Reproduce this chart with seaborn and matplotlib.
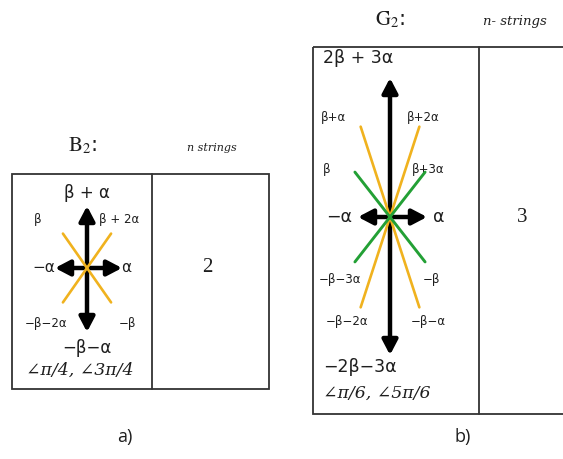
import numpy as np
import seaborn as sns
import matplotlib.pyplot as plt
from matplotlib.patches import Rectangle

sns.set_theme(style="white")
plt.rcParams['mathtext.fontset'] = 'stix'

# root system data
b2_short_angles = [55, 125]          # orange lines (degrees)
b2_labels = ["β + α", "β", "β + 2α", "−α", "α", "−β−2α", "−β", "−β−α"]
b2_angle_text = "∠π/4, ∠3π/4"
b2_strings = "2"

g2_long_angles = [72, 108]           # orange lines
g2_short_angles = [52, 128]          # green lines
g2_labels = ["2β + 3α", "β+α", "β+2α", "β", "β+3α", "−α", "α",
             "−β−3α", "−β", "−β−2α", "−β−α", "−2β−3α"]
g2_angle_text = "∠π/6, ∠5π/6"
g2_strings = "3"

panel_names = [r"$\mathrm{B}_2$:", r"$\mathrm{G}_2$:"]
column_titles = ["n strings", "n- strings"]
captions = ["a)", "b)"]

ORANGE = "#F0B21E"
GREEN = "#23A035"
INK = "#1e1e1e"
SANS = ['DejaVu Sans']
SERIF = ['DejaVu Serif']

fig = plt.figure(figsize=(5.63, 4.59), dpi=100)
ax = fig.add_axes([0, 0, 1, 1])
ax.set_xlim(0, 563)
ax.set_ylim(459, 0)
ax.axis('off')


def box(x0, y0, x1, y1, xdiv):
    ax.add_patch(Rectangle((x0, y0), x1 - x0, y1 - y0, fill=False,
                           ec='#333333', lw=1.3))
    ax.plot([xdiv, xdiv], [y0, y1], color='#333333', lw=1.3)


def root_lines(cx, cy, angles, length, color, lw):
    for a in angles:
        t = np.deg2rad(a)
        dx, dy = length * np.cos(t), length * np.sin(t)
        sns.lineplot(x=[cx - dx, cx + dx], y=[cy + dy, cy - dy], sort=False,
                     color=color, lw=lw, ax=ax, zorder=4)


def arrow(x0, y0, x1, y1):
    ax.annotate('', xy=(x1, y1), xytext=(x0, y0),
                arrowprops=dict(arrowstyle='-|>,head_length=0.8,head_width=0.42',
                                lw=3.2, color='black', shrinkA=0, shrinkB=0,
                                mutation_scale=11), zorder=3)


def label(x, y, s, size=8.5, ha='center', **kw):
    ax.text(x, y, s, ha=ha, va='center', fontsize=size, family=SANS,
            color=INK, **kw)


# ---- panel a) B2 ----
box(12, 174, 269, 389, 152)
cx, cy = 87, 268
root_lines(cx, cy, b2_short_angles, 42, ORANGE, 1.9)
arrow(cx, cy, cx, 206)
arrow(cx, cy, cx, 332)
arrow(cx, cy, 55, cy)
arrow(cx, cy, 122, cy)

label(87, 193, b2_labels[0], size=12)
label(38, 219, b2_labels[1])
label(119, 219, b2_labels[2])
label(55, 268, b2_labels[3], size=11, ha='right')
label(121, 268, b2_labels[4], size=11, ha='left')
label(46, 323, b2_labels[5])
label(127, 323, b2_labels[6])
label(87, 348, b2_labels[7], size=12)
ax.text(80, 370, b2_angle_text, ha='center', va='center', fontsize=12.5,
        family=SERIF, style='italic', color=INK)
ax.text(207, 268, b2_strings, ha='center', va='center', fontsize=15,
        family=['Liberation Serif'], color=INK)
ax.text(83, 146, panel_names[0], ha='center', va='center', fontsize=15,
        color=INK)
ax.text(212, 148, column_titles[0], ha='center', va='center', fontsize=8,
        family=SERIF, style='italic', color=INK)

# ---- panel b) G2 ----
box(313, 47, 566, 414, 479)
cx, cy = 390, 217
root_lines(cx, cy, g2_long_angles, 95, ORANGE, 1.9)
root_lines(cx, cy, g2_short_angles, 57, GREEN, 2.1)
arrow(cx, cy, cx, 78)
arrow(cx, cy, cx, 355)
arrow(cx, cy, 358, cy)
arrow(cx, cy, 427, cy)

label(323, 58, g2_labels[0], size=12.5, ha='left')
label(333, 118, g2_labels[1])
label(423, 118, g2_labels[2])
label(327, 170, g2_labels[3])
label(428, 170, g2_labels[4])
label(352, 217, g2_labels[5], size=12.5, ha='right')
label(433, 217, g2_labels[6], size=12.5, ha='left')
label(340, 280, g2_labels[7])
label(431, 280, g2_labels[8])
label(347, 322, g2_labels[9])
label(428, 322, g2_labels[10])
label(323, 367, g2_labels[11], size=12.5, ha='left')
ax.text(323, 393, g2_angle_text, ha='left', va='center', fontsize=12.5,
        family=SERIF, style='italic', color=INK)
ax.text(522, 217, g2_strings, ha='center', va='center', fontsize=15,
        family=['Liberation Serif'], color=INK)
ax.text(390, 20, panel_names[1], ha='center', va='center', fontsize=15,
        color=INK)
ax.text(515, 21, column_titles[1], ha='center', va='center', fontsize=9.5,
        family=SERIF, style='italic', color=INK)

# captions
ax.text(125, 437, captions[0], ha='center', va='center', fontsize=13,
        family=['Open Sans'], color=INK)
ax.text(463, 437, captions[1], ha='center', va='center', fontsize=13,
        family=['Open Sans'], color=INK)

fig.savefig('out.png', dpi=100)
